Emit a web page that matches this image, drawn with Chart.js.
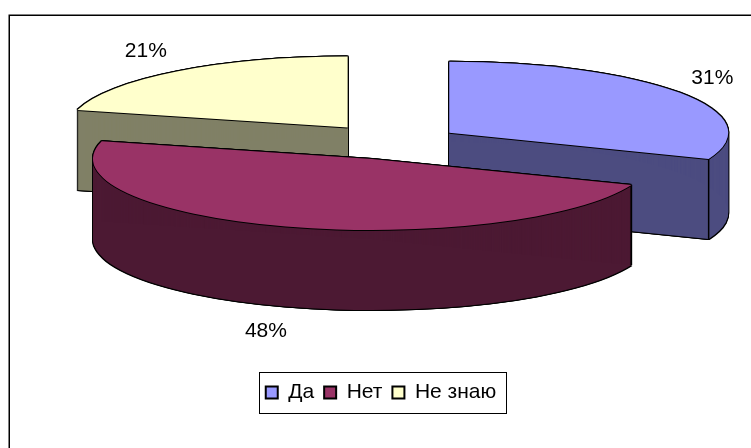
<!DOCTYPE html>
<html><head><meta charset="utf-8">
<style>html,body{margin:0;padding:0;background:#fff}canvas{display:block}</style>
<script src="https://cdn.jsdelivr.net/npm/chart.js@4"></script>
</head><body><canvas id="c" width="751" height="448"></canvas>
<script>
const categories = ['Да', 'Нет', 'Не знаю'];
const shares = [31, 48, 21];
const topColors = ['#9999FF', '#993366', '#FFFFCC'];
const sideColors = ['#4C4C80', '#4C1933', '#808066'];
const labelPull = [1.14, 1.23, 1.18];
const explodePull = [68, 68, 74];

const FONT = '"Liberation Sans", Arial, sans-serif';
const CX = 393, CY = 142.5, RX = 279, TILT = 0.2545, DEPTH = 80;

function sliceCenter(el, i) {
  const m = (el.startAngle + el.endAngle) / 2;
  return [CX + Math.cos(m) * explodePull[i], CY + Math.sin(m) * explodePull[i] * TILT];
}
function drawArc(ctx, el, i, color, dx, dy) {
  const [sx, sy] = sliceCenter(el, i);
  const proxy = Object.create(el, {options: {value: Object.assign({}, el.options, {backgroundColor: color, borderWidth: 0, offset: 0})}});
  ctx.save();
  ctx.translate(sx + dx, sy + dy);
  ctx.scale(1, TILT);
  ctx.translate(-el.x, -el.y);
  proxy.draw(ctx);
  ctx.restore();
}

const pie3d = {
  id: 'pie3d',
  beforeDraw(chart) {
    const ctx = chart.ctx;
    ctx.save();
    ctx.fillStyle = '#fff';
    ctx.fillRect(0, 0, 751, 448);
    ctx.strokeStyle = '#000';
    ctx.lineWidth = 1.5;
    ctx.beginPath();
    ctx.moveTo(9.25, 448); ctx.lineTo(9.25, 15.25); ctx.lineTo(751, 15.25);
    ctx.stroke();
    ctx.restore();
  },
  beforeDatasetDraw() { return false; },
  afterDatasetsDraw(chart) {
    const ctx = chart.ctx;
    const arcs = chart.getDatasetMeta(0).data;
    const order = arcs.map((a, i) => i).sort((p, q) =>
      Math.sin((arcs[p].startAngle + arcs[p].endAngle) / 2) - Math.sin((arcs[q].startAngle + arcs[q].endAngle) / 2));
    for (const i of order) {
      const el = arcs[i];
      const [sx, sy] = sliceCenter(el, i);
      for (let d = -1; d <= DEPTH + 1; d++) for (const dx of [-1, 0, 1]) drawArc(ctx, el, i, '#000', dx, d);
      for (let d = 0; d <= DEPTH; d++) drawArc(ctx, el, i, sideColors[i], 0, d);
      ctx.save();
      ctx.strokeStyle = '#000';
      ctx.lineWidth = 1.5;
      for (const a of [el.startAngle, el.endAngle]) {
        if (Math.sin(a) <= 0) continue;
        const x = sx + Math.cos(a) * RX, y = sy + Math.sin(a) * RX * TILT;
        ctx.beginPath(); ctx.moveTo(x, y); ctx.lineTo(x, y + DEPTH); ctx.stroke();
      }
      ctx.restore();
      for (const [dx, dy] of [[-1, 0], [1, 0], [0, -1], [0, 1]]) drawArc(ctx, el, i, '#000', dx, dy);
      drawArc(ctx, el, i, topColors[i], 0, 0);
    }
    // percentage labels, placed outward along each slice's middle angle
    ctx.save();
    ctx.fillStyle = '#000';
    ctx.font = '21px ' + FONT;
    ctx.textAlign = 'center';
    ctx.textBaseline = 'middle';
    arcs.forEach((el, i) => {
      const m = (el.startAngle + el.endAngle) / 2;
      const [sx, sy] = sliceCenter(el, i);
      const x = sx + Math.cos(m) * RX * labelPull[i];
      const y = sy + Math.sin(m) * RX * TILT * 1.36 + (Math.sin(m) > 0 ? DEPTH : 0);
      ctx.fillText(shares[i] + '%', x, y);
    });
    ctx.restore();
    // legend frame
    const boxes = chart.legend.legendHitBoxes, lg = chart.legend;
    const last = boxes[boxes.length - 1];
    ctx.save();
    ctx.strokeStyle = '#000';
    ctx.lineWidth = 1;
    const x0 = Math.round(boxes[0].left - 7) + .5, x1 = Math.round(last.left + last.width + 10) + .5;
    ctx.strokeRect(x0, Math.round(lg.top) + .5, x1 - x0, Math.round(lg.height));
    ctx.restore();
  }
};

new Chart(document.getElementById('c'), {
  type: 'pie',
  data: {
    labels: categories,
    datasets: [{data: shares, backgroundColor: topColors, borderColor: '#000', borderWidth: 2, radius: RX, clip: false}]
  },
  options: {
    responsive: false,
    animation: false,
    devicePixelRatio: 1,
    layout: {padding: {left: 11, right: 0, top: 0, bottom: 35}},
    plugins: {
      tooltip: {enabled: false},
      title: {display: false},
      legend: {
        position: 'bottom',
        labels: {color: '#000', font: {family: FONT, size: 21}, boxWidth: 12, boxHeight: 12, padding: 10}
      }
    }
  },
  plugins: [pie3d]
});
</script></body></html>
